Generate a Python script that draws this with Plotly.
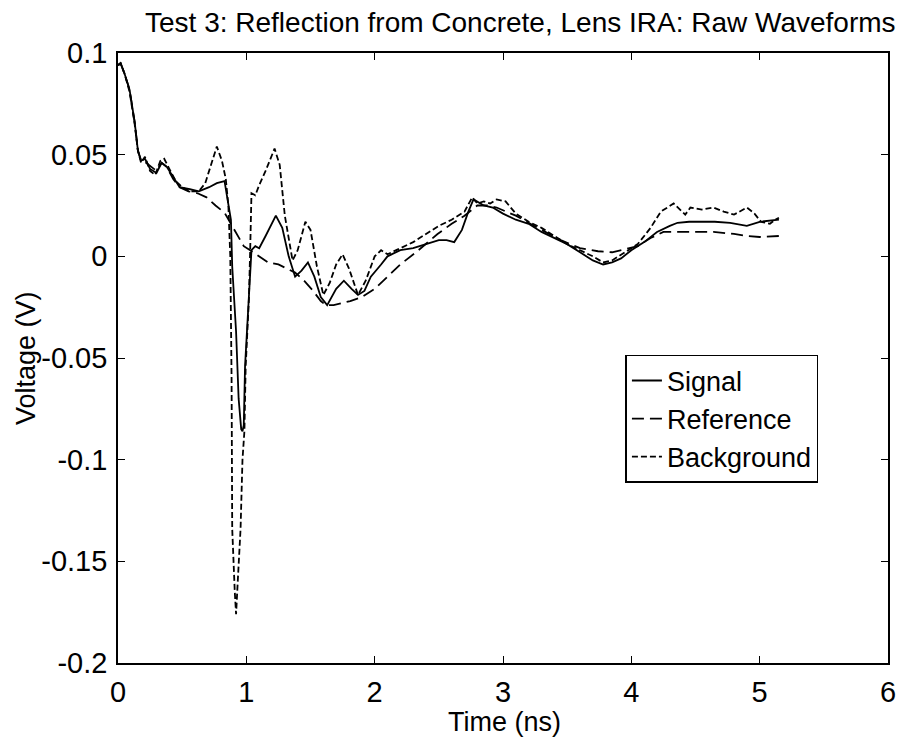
import plotly.graph_objects as go

# Time axis (ns) and recorded voltages (V) for each waveform
sig_t = [0.0, 0.02, 0.05, 0.09, 0.13, 0.155, 0.18, 0.21, 0.25, 0.30, 0.34, 0.38, 0.43, 0.48,
         0.56, 0.63, 0.71, 0.77, 0.83, 0.85, 0.88, 0.89, 0.92, 0.94, 0.96, 0.97, 0.98, 0.99,
         1.02, 1.04, 1.07, 1.10, 1.15, 1.23, 1.28, 1.33, 1.38, 1.43, 1.48, 1.53, 1.58, 1.63,
         1.70, 1.76, 1.82, 1.87, 1.92, 1.97, 2.05, 2.10, 2.20, 2.30, 2.40, 2.50, 2.56, 2.62,
         2.68, 2.73, 2.77, 2.80, 2.85, 2.92, 3.00, 3.10, 3.20, 3.30, 3.40, 3.50, 3.60, 3.70,
         3.78, 3.85, 3.92, 4.00, 4.10, 4.20, 4.30, 4.36, 4.45, 4.55, 4.65, 4.77, 4.90, 5.00,
         5.10, 5.15]
sig_v = [0.094, 0.095, 0.090, 0.082, 0.066, 0.052, 0.047, 0.048, 0.043, 0.041, 0.046, 0.044,
         0.039, 0.034, 0.033, 0.032, 0.034, 0.036, 0.037, 0.030, 0.018, -0.005, -0.037, -0.070,
         -0.085, -0.086, -0.083, -0.054, -0.021, 0.003, 0.005, 0.004, 0.010, 0.020, 0.014,
         0.000, -0.010, -0.007, -0.003, -0.010, -0.020, -0.024, -0.016, -0.012, -0.016, -0.019,
         -0.017, -0.010, -0.004, 0.000, 0.003, 0.004, 0.006, 0.008, 0.008, 0.007, 0.013, 0.022,
         0.028, 0.027, 0.025, 0.024, 0.021, 0.018, 0.016, 0.012, 0.009, 0.006, 0.002, -0.002,
         -0.004, -0.003, -0.001, 0.003, 0.007, 0.012, 0.015, 0.0165, 0.017, 0.017, 0.017,
         0.0165, 0.015, 0.017, 0.0175, 0.018]

ref_t = [0.0, 0.02, 0.05, 0.09, 0.13, 0.155, 0.18, 0.22, 0.26, 0.30, 0.34, 0.38, 0.43, 0.48,
         0.55, 0.62, 0.69, 0.76, 0.83, 0.88, 0.93, 0.98, 1.03, 1.10, 1.17, 1.25, 1.30, 1.38,
         1.45, 1.52, 1.58, 1.62, 1.68, 1.75, 1.81, 1.90, 2.00, 2.10, 2.20, 2.33, 2.49, 2.60,
         2.70, 2.80, 2.88, 2.95, 3.10, 3.30, 3.45, 3.60, 3.74, 3.85, 3.95, 4.05, 4.15, 4.25,
         4.33, 4.50, 4.64, 4.80, 4.90, 5.00, 5.15]
ref_v = [0.094, 0.095, 0.090, 0.082, 0.066, 0.052, 0.047, 0.046, 0.044, 0.042, 0.046, 0.044,
         0.038, 0.034, 0.032, 0.031, 0.029, 0.025, 0.0215, 0.016, 0.010, 0.005, 0.003, 0.000,
         -0.003, -0.004, -0.0055, -0.008, -0.012, -0.017, -0.022, -0.024, -0.024, -0.023,
         -0.022, -0.020, -0.016, -0.010, -0.004, 0.0024, 0.011, 0.016, 0.020, 0.025, 0.025,
         0.024, 0.020, 0.013, 0.008, 0.004, 0.0025, 0.002, 0.0035, 0.005, 0.009, 0.012, 0.012,
         0.012, 0.012, 0.011, 0.010, 0.0095, 0.010]

bkg_t = [0.0, 0.02, 0.05, 0.09, 0.13, 0.155, 0.18, 0.21, 0.25, 0.29, 0.33, 0.36, 0.40, 0.45,
         0.50, 0.56, 0.63, 0.68, 0.73, 0.77, 0.81, 0.84, 0.86, 0.875, 0.885, 0.89, 0.91, 0.92,
         0.933, 0.955, 0.97, 0.985, 0.995, 1.02, 1.03, 1.04, 1.07, 1.10, 1.15, 1.22, 1.26,
         1.30, 1.36, 1.40, 1.46, 1.50, 1.55, 1.60, 1.65, 1.70, 1.75, 1.80, 1.87, 1.93, 2.00,
         2.05, 2.10, 2.20, 2.30, 2.40, 2.50, 2.60, 2.70, 2.76, 2.80, 2.85, 2.90, 2.95, 3.02,
         3.10, 3.20, 3.30, 3.40, 3.50, 3.60, 3.70, 3.78, 3.85, 3.95, 4.05, 4.15, 4.23, 4.33,
         4.42, 4.46, 4.55, 4.64, 4.72, 4.80, 4.90, 4.96, 5.01, 5.08, 5.12, 5.15]
bkg_v = [0.094, 0.095, 0.090, 0.081, 0.065, 0.052, 0.046, 0.049, 0.042, 0.040, 0.047, 0.048,
         0.043, 0.037, 0.034, 0.032, 0.032, 0.036, 0.046, 0.054, 0.047, 0.038, 0.025, 0.000,
         -0.060, -0.134, -0.165, -0.176, -0.160, -0.134, -0.100, -0.086, -0.054, -0.021, 0.003,
         0.031, 0.030, 0.035, 0.042, 0.053, 0.045, 0.020, -0.002, 0.003, 0.017, 0.013, -0.005,
         -0.019, -0.013, -0.004, 0.001, -0.006, -0.019, -0.012, 0.000, 0.003, 0.001, 0.004,
         0.007, 0.011, 0.015, 0.018, 0.022, 0.029, 0.026, 0.027, 0.026, 0.028, 0.027, 0.021,
         0.017, 0.014, 0.010, 0.006, 0.003, 0.000, -0.003, -0.002, 0.002, 0.006, 0.014, 0.022,
         0.026, 0.0205, 0.024, 0.023, 0.024, 0.022, 0.0205, 0.024, 0.021, 0.017, 0.016, 0.018,
         0.019]

x_ticks = [0, 1, 2, 3, 4, 5, 6]
y_ticks = [0.1, 0.05, 0, -0.05, -0.1, -0.15, -0.2]
y_tick_labels = ["0.1", "0.05", "0", "-0.05", "-0.1", "-0.15", "-0.2"]

FONT = "Liberation Sans, Arial, Helvetica, sans-serif"

fig = go.Figure()
fig.add_trace(go.Scatter(x=sig_t, y=sig_v, mode="lines", name="Signal",
                         line=dict(color="black", width=1.8)))
fig.add_trace(go.Scatter(x=ref_t, y=ref_v, mode="lines", name="Reference",
                         line=dict(color="black", width=1.8, dash="12px,6px")))
fig.add_trace(go.Scatter(x=bkg_t, y=bkg_v, mode="lines", name="Background",
                         line=dict(color="black", width=1.8, dash="6px,3px")))

axis_common = dict(showgrid=False, zeroline=False, showline=True, linecolor="black",
                   linewidth=1.6, ticks="inside", ticklen=7, tickwidth=1.4,
                   tickcolor="black", mirror="allticks",
                   tickfont=dict(family=FONT, size=29, color="black"))

fig.update_xaxes(range=[0, 6], tickvals=x_ticks, ticklabelstandoff=2, **axis_common)
fig.update_yaxes(range=[-0.2, 0.1], tickvals=y_ticks, ticktext=y_tick_labels,
                 ticklabelstandoff=3, **axis_common)

fig.update_layout(
    width=908, height=745,
    margin=dict(l=118, r=12, t=53, b=82),
    paper_bgcolor="white", plot_bgcolor="white",
    showlegend=True,
    font=dict(family=FONT, color="black"),
    title=dict(text="Test 3: Reflection from Concrete, Lens IRA: Raw Waveforms",
               x=0.573, xanchor="center", y=0.970, yanchor="middle",
               font=dict(family=FONT, size=28, color="black")),
    legend=dict(x=0.659, y=0.505, xanchor="left", yanchor="top",
                bgcolor="white", bordercolor="black", borderwidth=1.5,
                font=dict(family=FONT, size=27, color="black"),
                tracegroupgap=0, itemwidth=30),
    annotations=[
        dict(text="Time (ns)", xref="paper", yref="paper", x=0.502, y=-0.097,
             xanchor="center", yanchor="middle", showarrow=False,
             font=dict(family=FONT, size=27, color="black")),
        dict(text="Voltage (V)", xref="paper", yref="paper", x=-0.1195, y=0.5,
             xanchor="center", yanchor="middle", textangle=-90, showarrow=False,
             font=dict(family=FONT, size=27, color="black")),
    ],
)

fig.write_html("out.html")
